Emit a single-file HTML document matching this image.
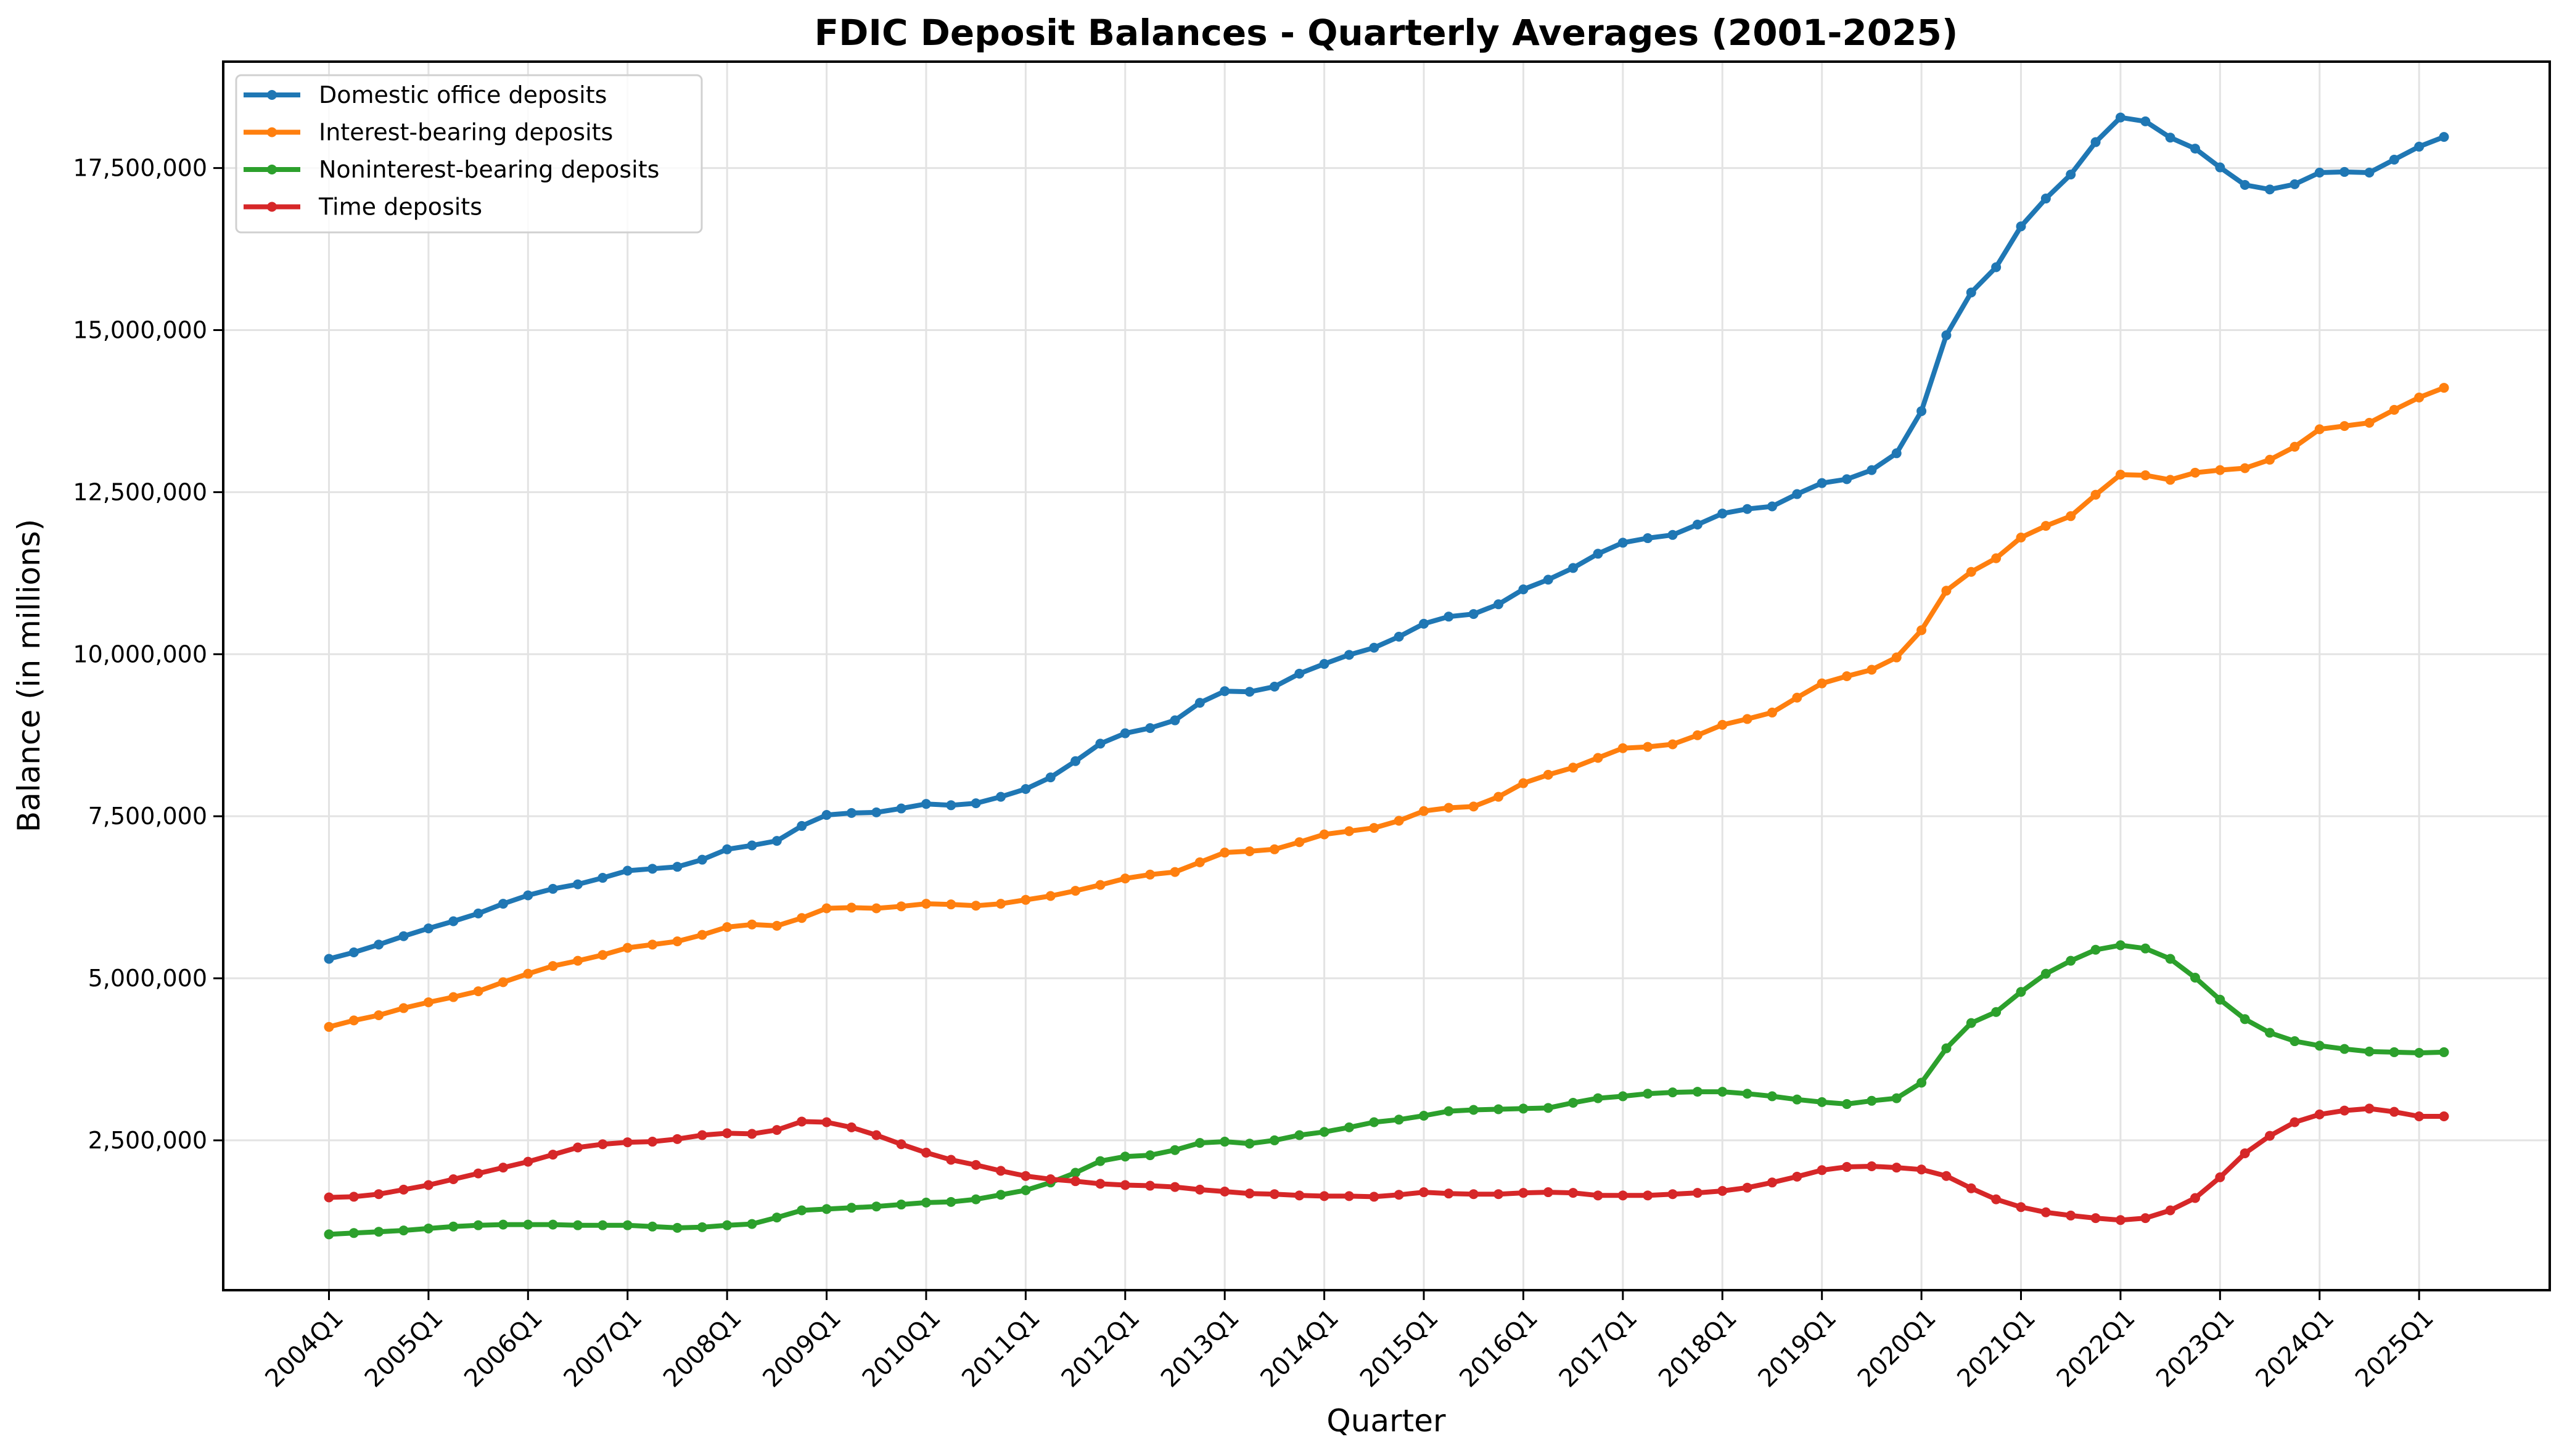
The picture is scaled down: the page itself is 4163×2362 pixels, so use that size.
<!DOCTYPE html>
<html><head><meta charset="utf-8">
<style>
html,body{margin:0;padding:0;background:#fff;}
svg{display:block;font-family:"DejaVu Sans","Liberation Sans",sans-serif;}
</style></head>
<body>
<svg id="chart" width="4163" height="2362" viewBox="0 0 4163 2362" xmlns="http://www.w3.org/2000/svg">
<rect width="4163" height="2362" fill="#fff"/>
<text x="2248" y="73" text-anchor="middle" font-size="58" font-weight="bold">FDIC Deposit Balances - Quarterly Averages (2001-2025)</text>
<g id="grid"></g>
<g id="series"></g>
<rect x="362" y="100" width="3773" height="1993" fill="none" stroke="#000" stroke-width="4"/>
<g id="axes"></g>
<text x="2248" y="2322" text-anchor="middle" font-size="50">Quarter</text>
<text transform="translate(64,1096) rotate(-90)" text-anchor="middle" font-size="50">Balance (in millions)</text>
<g id="legend"></g>
</svg>
<script>
const domestic = [5.30,5.40,5.52,5.65, 5.77,5.88,6.00,6.15, 6.28,6.38,6.45,6.55, 6.66,6.69,6.72,6.83, 6.99,7.05,7.12,7.35, 7.52,7.55,7.56,7.62, 7.69,7.67,7.70,7.80, 7.92,8.10,8.35,8.62, 8.78,8.86,8.98,9.25, 9.43,9.42,9.50,9.70, 9.85,9.99,10.10,10.27, 10.47,10.58,10.62,10.77, 11.00,11.15,11.33,11.55, 11.72,11.79,11.84,12.00, 12.17,12.24,12.28,12.47, 12.64,12.70,12.84,13.10, 13.75,14.92,15.58,15.97, 16.60,17.03,17.40,17.90, 18.28,18.22,17.97,17.80, 17.51,17.24,17.17,17.25, 17.43,17.44,17.43,17.63, 17.83,17.98];
const interest = [4.25,4.35,4.43,4.54, 4.63,4.71,4.80,4.94, 5.07,5.19,5.27,5.36, 5.47,5.52,5.57,5.67, 5.79,5.83,5.81,5.93, 6.08,6.09,6.08,6.11, 6.15,6.14,6.12,6.15, 6.21,6.27,6.35,6.44, 6.54,6.60,6.64,6.79, 6.94,6.96,6.99,7.10, 7.22,7.27,7.32,7.43, 7.58,7.63,7.65,7.80, 8.01,8.14,8.25,8.40, 8.55,8.57,8.61,8.75, 8.91,9.00,9.10,9.33, 9.55,9.66,9.76,9.95, 10.37,10.98,11.27,11.48, 11.80,11.98,12.13,12.46, 12.77,12.76,12.69,12.80, 12.84,12.87,13.00,13.20, 13.47,13.52,13.57,13.77, 13.96,14.11];
const noninterest = [1.05,1.07,1.09,1.11, 1.14,1.17,1.19,1.20, 1.20,1.20,1.19,1.19, 1.19,1.17,1.15,1.16, 1.19,1.21,1.31,1.42, 1.44,1.46,1.48,1.51, 1.54,1.55,1.59,1.66, 1.73,1.85,2.00,2.18, 2.25,2.27,2.35,2.46, 2.48,2.45,2.50,2.58, 2.63,2.70,2.78,2.82, 2.88,2.95,2.97,2.98, 2.99,3.00,3.08,3.15, 3.18,3.22,3.24,3.25, 3.25,3.22,3.18,3.13, 3.09,3.06,3.11,3.15, 3.39,3.92,4.31,4.48, 4.79,5.07,5.27,5.44, 5.51,5.46,5.30,5.01, 4.67,4.37,4.16,4.03, 3.96,3.91,3.87,3.86, 3.85,3.86];
const timeDep = [1.62,1.63,1.67,1.74, 1.81,1.90,1.99,2.08, 2.17,2.28,2.39,2.44, 2.47,2.48,2.52,2.58, 2.61,2.60,2.66,2.79, 2.78,2.70,2.58,2.44, 2.31,2.20,2.12,2.03, 1.95,1.90,1.87,1.83, 1.81,1.80,1.78,1.74, 1.71,1.68,1.67,1.65, 1.64,1.64,1.63,1.66, 1.70,1.68,1.67,1.67, 1.69,1.70,1.69,1.65, 1.65,1.65,1.67,1.69, 1.72,1.77,1.85,1.94, 2.04,2.09,2.10,2.08, 2.05,1.95,1.76,1.59, 1.47,1.39,1.34,1.30, 1.27,1.30,1.42,1.61, 1.93,2.30,2.57,2.78, 2.90,2.96,2.99,2.94, 2.87,2.87];
const seriesNames = ["Domestic office deposits","Interest-bearing deposits","Noninterest-bearing deposits","Time deposits"];
const yTicks = [2500000,5000000,7500000,10000000,12500000,15000000,17500000];
const xTickLabels = ["2004Q1","2005Q1","2006Q1","2007Q1","2008Q1","2009Q1","2010Q1","2011Q1","2012Q1","2013Q1","2014Q1","2015Q1","2016Q1","2017Q1","2018Q1","2019Q1","2020Q1","2021Q1","2022Q1","2023Q1","2024Q1","2025Q1"];

const NS="http://www.w3.org/2000/svg";
const colors=["#1f77b4","#ff7f0e","#2ca02c","#d62728"];
const L=362,R=4135,T=100,B=2093;
const allVals=[domestic,interest,noninterest,timeDep].flat();
const n=domestic.length;
const xmin=-0.05*(n-1), xmax=(n-1)*1.05;
const dmin=Math.min(...allVals), dmax=Math.max(...allVals);
const ymin=(dmin-0.05*(dmax-dmin))*1e6, ymax=(dmax+0.05*(dmax-dmin))*1e6;
function xs(i){return L+(i-xmin)/(xmax-xmin)*(R-L);}
function ys(v){return B-(v-ymin)/(ymax-ymin)*(B-T);}
function mk(tag,attrs,parent){const e=document.createElementNS(NS,tag);for(const k in attrs)e.setAttribute(k,attrs[k]);parent.appendChild(e);return e;}
const grid=document.getElementById('grid'),axes=document.getElementById('axes'),ser=document.getElementById('series'),leg=document.getElementById('legend');

yTicks.forEach(v=>{
  const y=ys(v);
  const g=mk('line',{x1:L,x2:R,y1:y,y2:y,stroke:'#e3e3e3','stroke-width':3},grid);
  
  
  const t=mk('line',{x1:L-16,x2:L,y1:y,y2:y,stroke:'#000','stroke-width':3},axes);
  
  
  const tx=mk('text',{x:L-26,y:y+13,'text-anchor':'end','font-size':38},axes);
  tx.textContent=v.toLocaleString('en-US');
  
  
});
xTickLabels.forEach((lab,k)=>{
  const x=xs(k*4);
  const g=mk('line',{x1:x,x2:x,y1:T,y2:B,stroke:'#e3e3e3','stroke-width':3},grid);
  
  
  const t=mk('line',{x1:x,x2:x,y1:B,y2:B+16,stroke:'#000','stroke-width':3},axes);
  
  
  const tx=mk('text',{x:x+10,y:B+54,'text-anchor':'end','font-size':40,transform:`rotate(-45 ${x+10} ${B+32})`},axes);
  tx.textContent=lab;
  
  
});
[domestic,interest,noninterest,timeDep].forEach((arr,s)=>{
  const g=mk('g',{},ser);
  
  
  const pts=arr.map((v,i)=>xs(i).toFixed(1)+','+ys(v*1e6).toFixed(1)).join(' ');
  const pl=mk('polyline',{points:pts,fill:'none',stroke:colors[s],'stroke-width':8,'stroke-linejoin':'round'},g);
  
  
  arr.forEach((v,i)=>{
    const c=mk('circle',{cx:xs(i),cy:ys(v*1e6),r:8,fill:colors[s]},g);
    
    
  });
});
const box=mk('rect',{x:383,y:122,width:755,height:255,rx:8,fill:'#fff','fill-opacity':0.8,stroke:'#d0d0d0','stroke-width':3},leg);


seriesNames.forEach((nm,s)=>{
  const y=154+s*60.5;
  const g=mk('g',{},leg);
  
  
  mk('line',{x1:395,x2:487,y1:y,y2:y,stroke:colors[s],'stroke-width':8},g);
  mk('circle',{cx:441,cy:y,r:8,fill:colors[s]},g);
  const t=mk('text',{x:517,y:y+13,'font-size':38},g);
  t.textContent=nm;
  
  
});
</script>
</body></html>
